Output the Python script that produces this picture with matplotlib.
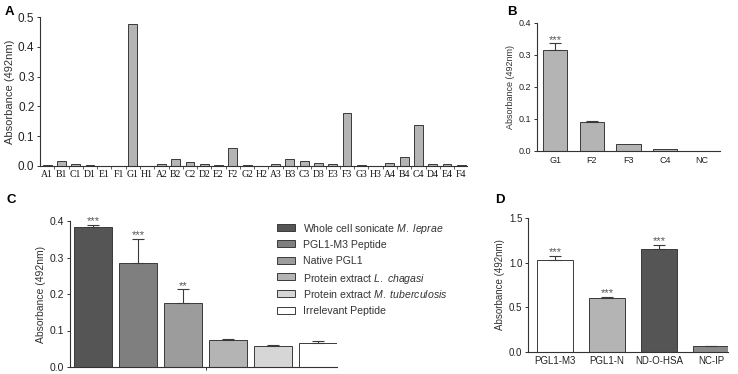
import matplotlib
matplotlib.use("Agg")
import matplotlib.pyplot as plt
from matplotlib.patches import Rectangle
import numpy as np

plt.rcParams['font.family'] = ['Liberation Sans', 'DejaVu Sans']
plt.rcParams['mathtext.fontset'] = 'custom'
plt.rcParams['mathtext.rm'] = 'Liberation Sans'
plt.rcParams['mathtext.it'] = 'Liberation Sans:italic'

# ---- data ----
# panel A: screening of phage clones
a_labels = ['A1', 'B1', 'C1', 'D1', 'E1', 'F1', 'G1', 'H1',
            'A2', 'B2', 'C2', 'D2', 'E2', 'F2', 'G2', 'H2',
            'A3', 'B3', 'C3', 'D3', 'E3', 'F3', 'G3', 'H3',
            'A4', 'B4', 'C4', 'D4', 'E4', 'F4']
a_values = [0.005, 0.018, 0.007, 0.003, 0.0, 0.001, 0.477, 0.0,
            0.008, 0.024, 0.013, 0.007, 0.004, 0.062, 0.003, 0.0,
            0.008, 0.025, 0.017, 0.010, 0.006, 0.179, 0.003, 0.0,
            0.010, 0.029, 0.138, 0.008, 0.006, 0.003]

# panel B
b_labels = ['G1', 'F2', 'F3', 'C4', 'NC']
b_values = [0.315, 0.090, 0.021, 0.006, 0.0]
b_err = [0.020, 0.002, 0.0, 0.0, 0.0]
b_stars = ['***', '', '', '', '']

# panel C
c_names = [r'Whole cell sonicate $\it{M.}$ $\it{leprae}$', 'PGL1-M3 Peptide', 'Native PGL1',
           r'Protein extract $\it{L.}$ $\it{chagasi}$', r'Protein extract $\it{M.}$ $\it{tuberculosis}$',
           'Irrelevant Peptide']
c_values = [0.383, 0.284, 0.174, 0.073, 0.058, 0.066]
c_err = [0.006, 0.068, 0.039, 0.004, 0.003, 0.005]
c_stars = ['***', '***', '**', '', '', '']
c_colors = ['#555555', '#7f7f7f', '#9c9c9c', '#b4b4b4', '#d6d6d6', '#ffffff']

# panel D
d_labels = ['PGL1-M3', 'PGL1-N', 'ND-O-HSA', 'NC-IP']
d_values = [1.035, 0.605, 1.150, 0.065]
d_err = [0.040, 0.010, 0.050, 0.004]
d_stars = ['***', '***', '***', '']
d_colors = ['#ffffff', '#b4b4b4', '#555555', '#8a8a8a']

edge = '#3a3a3a'
W, H = 738, 374
fig = plt.figure(figsize=(W / 100, H / 100), dpi=100)


def box(l, t, r, b):
    return [l / W, 1 - b / H, (r - l) / W, (b - t) / H]


def style(ax, fs):
    for s in ['top', 'right']:
        ax.spines[s].set_visible(False)
    for s in ['left', 'bottom']:
        ax.spines[s].set_color('#333333')
        ax.spines[s].set_linewidth(0.8)
    ax.tick_params(colors='#333333', labelcolor='#222222', labelsize=fs,
                   length=2.5, width=0.7, pad=1.5)


def errs(ax, x, vals, err, stars, fs, off):
    for xi, v, e, s in zip(x, vals, err, stars):
        if e > 0:
            ax.errorbar(xi, v, yerr=[[0], [e]], fmt='none', ecolor=edge,
                        elinewidth=0.8, capsize=4.5, capthick=0.8)
        if s:
            ax.text(xi, v + e + off, s, ha='center', va='bottom',
                    fontsize=fs, color='#555555')


# ---- A ----
axA = fig.add_axes(box(40, 17, 467, 166))
xa = np.arange(len(a_labels))
axA.bar(xa, a_values, width=0.62, color='#b4b4b4', edgecolor=edge, linewidth=0.7)
axA.set_xlim(-0.5, 29.4)
axA.set_ylim(0, 0.5)
axA.set_yticks([0, 0.1, 0.2, 0.3, 0.4, 0.5])
axA.set_yticklabels(['0.0', '0.1', '0.2', '0.3', '0.4', '0.5'])
axA.set_xticks(xa)
axA.set_xticks(xa[:-1] + 0.5, minor=True)
style(axA, 8.5)
axA.set_xticklabels(a_labels, family=['Liberation Serif'])
axA.tick_params(axis='x', length=0, pad=3, labelsize=7, labelcolor='#111111')
axA.tick_params(axis='x', which='minor', length=2.5, width=0.6, color='#444444')
axA.set_ylabel('Absorbance (492nm)', fontsize=8, color='#333333', labelpad=2)

# ---- B ----
axB = fig.add_axes(box(537, 22.7, 720, 150.7))
xb = np.arange(len(b_labels))
axB.bar(xb, b_values, width=0.66, color='#b4b4b4', edgecolor=edge, linewidth=0.7)
errs(axB, xb, b_values, b_err, b_stars, 8, -0.004)
axB.set_xlim(-0.5, 4.5)
axB.set_ylim(0, 0.4)
axB.set_yticks([0, 0.1, 0.2, 0.3, 0.4])
axB.set_yticklabels(['0.0', '0.1', '0.2', '0.3', '0.4'])
axB.set_xticks(xb)
axB.set_xticklabels(b_labels)
style(axB, 6.5)
axB.tick_params(axis='x', length=0, pad=4)
axB.set_ylabel('Absorbance (492nm)', fontsize=6.5, color='#333333', labelpad=3)

# ---- C ----
axC = fig.add_axes(box(70, 221, 337, 367))
xc = np.arange(len(c_values))
axC.bar(xc, c_values, width=0.84, color=c_colors, edgecolor=edge, linewidth=0.7)
errs(axC, xc, c_values, c_err, c_stars, 8, -0.004)
axC.set_xlim(-0.51, 5.42)
axC.set_ylim(0, 0.4)
axC.set_yticks([0, 0.1, 0.2, 0.3, 0.4])
axC.set_yticklabels(['0.0', '0.1', '0.2', '0.3', '0.4'])
axC.set_xticks([2.5])
axC.set_xticklabels([''])
style(axC, 7.5)
axC.set_ylabel('Absorbance (492nm)', fontsize=7.5, color='#333333', labelpad=3)

# legend for C, evenly spaced rows
for i, (name, col) in enumerate(zip(c_names, c_colors)):
    yc = 227 + i * 16.6
    fig.patches.append(Rectangle((277 / W, 1 - (yc + 3.5) / H), 18 / W, 7 / H,
                                 transform=fig.transFigure, facecolor=col,
                                 edgecolor=edge, linewidth=0.7))
    fig.text(303 / W, 1 - yc / H, name, fontsize=7.6, color='#333333',
             ha='left', va='center_baseline')

# ---- D ----
axD = fig.add_axes(box(528, 218, 728, 352))
xd = np.arange(len(d_labels))
axD.bar(xd, d_values, width=0.68, color=d_colors, edgecolor=edge, linewidth=0.7)
errs(axD, xd, d_values, d_err, d_stars, 8, -0.015)
axD.set_xlim(-0.52, 3.33)
axD.set_ylim(0, 1.5)
axD.set_yticks([0, 0.5, 1.0, 1.5])
axD.set_yticklabels(['0.0', '0.5', '1.0', '1.5'])
axD.set_xticks(xd)
axD.set_xticklabels(d_labels)
style(axD, 7)
axD.tick_params(axis='x', length=0, pad=3)
axD.set_ylabel('Absorbance (492nm)', fontsize=7, color='#333333', labelpad=3)

# panel letters
for lab, x, y in [('A', 5, 12), ('B', 507, 12), ('C', 6, 200), ('D', 495, 200)]:
    fig.text(x / W, 1 - y / H, lab, fontsize=9.5, fontweight='bold', ha='left', va='center')

fig.savefig('out.png', dpi=100)
